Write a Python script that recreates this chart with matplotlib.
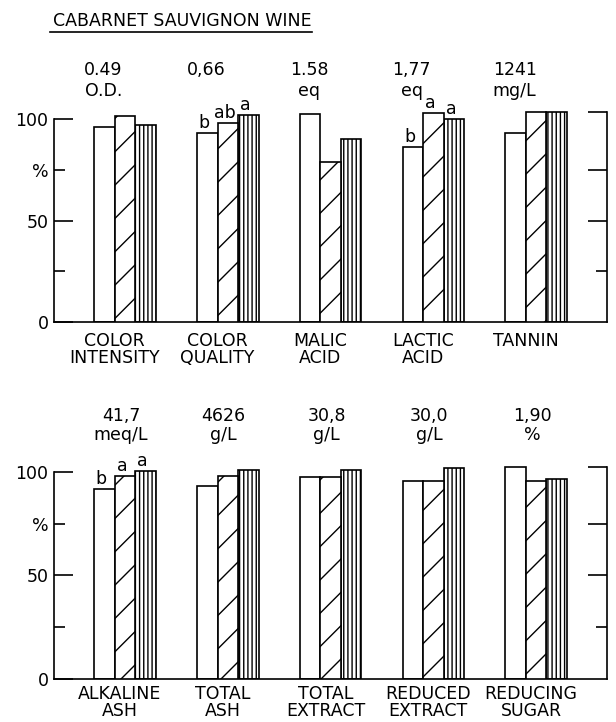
import matplotlib
matplotlib.use('Agg')
import matplotlib.pyplot as plt
from matplotlib.lines import Line2D
import numpy as np

plt.rcParams['font.family'] = 'DejaVu Sans'
plt.rcParams['hatch.linewidth'] = 1.0
plt.rcParams['hatch.color'] = 'black'

#####################################
# data (% of the highest treatment)
title = 'CABARNET SAUVIGNON WINE'

top_names = ['COLOR\nINTENSITY', 'COLOR\nQUALITY', 'MALIC\nACID', 'LACTIC\nACID', 'TANNIN']
top_values = ['0.49', '0,66', '1.58', '1,77', '1241']
top_units = ['O.D.', '', 'eq', 'eq', 'mg/L']
top_open = [96, 93, 102.5, 86, 93.3]
top_hatch = [101.5, 98, 79, 102.8, 103.5]
top_vert = [97, 102, 90, 99.8, 103.5]
top_letters = [None, ('b', 'ab', 'a'), None, ('b', 'a', 'a'), None]

bot_names = ['ALKALINE\nASH', 'TOTAL\nASH', 'TOTAL\nEXTRACT', 'REDUCED\nEXTRACT', 'REDUCING\nSUGAR']
bot_values = ['41,7', '4626', '30,8', '30,0', '1,90']
bot_units = ['meq/L', 'g/L', 'g/L', 'g/L', '%']
bot_open = [91.9, 93, 97.6, 95.8, 102.2]
bot_hatch = [97.9, 98.2, 97.6, 95.8, 95.8]
bot_vert = [100.6, 101.1, 101.1, 101.9, 96.6]
bot_letters = [('b', 'a', 'a'), None, None, None, None]

fs = 12.5
w = 0.2


def draw_panel(ax, names, values, units, opn, hat, ver, letters,
               right_top, head_dx, head_y, name_dx, name_pad):
    x = np.arange(len(names))
    ax.bar(x - w, opn, w, color='white', edgecolor='black', lw=1.2, zorder=2)
    ax.bar(x, hat, w, color='white', edgecolor='black', lw=1.2, hatch='/', zorder=3)
    ax.bar(x + w, ver, w, color='white', edgecolor='black', lw=1.2, hatch='||||', zorder=2)

    # significance letters
    for i, lt in enumerate(letters):
        if lt is None:
            continue
        for j, (dx, h) in enumerate(zip([-w, 0, w], [opn[i], hat[i], ver[i]])):
            ax.text(x[i] + dx - 0.03, h + 2.5, lt[j], ha='center', va='baseline',
                    fontsize=fs, clip_on=False)

    # values and units above each group
    for i in range(len(names)):
        ax.text(x[i] + head_dx, head_y[0], values[i], ha='center', va='center', fontsize=fs)
        if units[i]:
            ax.text(x[i] + head_dx, head_y[1], units[i], ha='center', va='center', fontsize=fs)

    ax.set_xlim(-0.691, 4.689)
    ax.set_ylim(0, 110)
    ax.set_xticks(x + name_dx, labels=names)
    ax.tick_params(axis='x', length=0, pad=name_pad, labelsize=fs)
    for lbl in ax.get_xticklabels():
        lbl.set_linespacing(0.95)

    ax.set_yticks([0, 50, 100], labels=['0', '50', '100'])
    ax.set_yticks([25, 75], labels=['', '%'], minor=True)
    ax.tick_params(axis='y', which='major', direction='in', length=14, width=1.2,
                   labelsize=fs, pad=4)
    ax.tick_params(axis='y', which='minor', direction='in', length=8, width=1.2,
                   labelsize=fs, pad=4)

    ax.spines['top'].set_visible(False)
    ax.spines['right'].set_visible(False)
    ax.spines['left'].set_bounds(0, 100)
    for s in ['left', 'bottom']:
        ax.spines[s].set_linewidth(1.2)

    # right-hand scale, no labels
    ax2 = ax.twinx()
    ax2.set_ylim(0, 110)
    for s in ['top', 'left', 'bottom']:
        ax2.spines[s].set_visible(False)
    ax2.spines['right'].set_bounds(0, right_top)
    ax2.spines['right'].set_linewidth(1.2)
    ax2.set_yticks([50, 75, right_top], labels=['', '', ''])
    ax2.set_yticks([25], labels=[''], minor=True)
    ax2.tick_params(axis='y', which='major', direction='in', length=14, width=1.2)
    ax2.tick_params(axis='y', which='minor', direction='in', length=8, width=1.2)


fig = plt.figure(figsize=(6.16, 7.22), dpi=100)

ax_top = fig.add_axes([0.0877, 0.554, 0.8977, 0.3093])
draw_panel(ax_top, top_names, top_values, top_units, top_open, top_hatch, top_vert,
           top_letters, 103.4, -0.21, (124, 114), -0.1, 7)

ax_bot = fig.add_axes([0.0877, 0.0596, 0.8977, 0.3154])
draw_panel(ax_bot, bot_names, bot_values, bot_units, bot_open, bot_hatch, bot_vert,
           bot_letters, 102.6, -0.04, (127, 118), -0.05, 4)

fig.text(53 / 616, 1 - 21.5 / 722, title, ha='left', va='center', fontsize=fs)
fig.add_artist(Line2D([50 / 616, 312 / 616], [1 - 32 / 722, 1 - 32 / 722],
                      color='black', lw=1.2, transform=fig.transFigure))

fig.savefig('out.png', dpi=100, facecolor='white')
